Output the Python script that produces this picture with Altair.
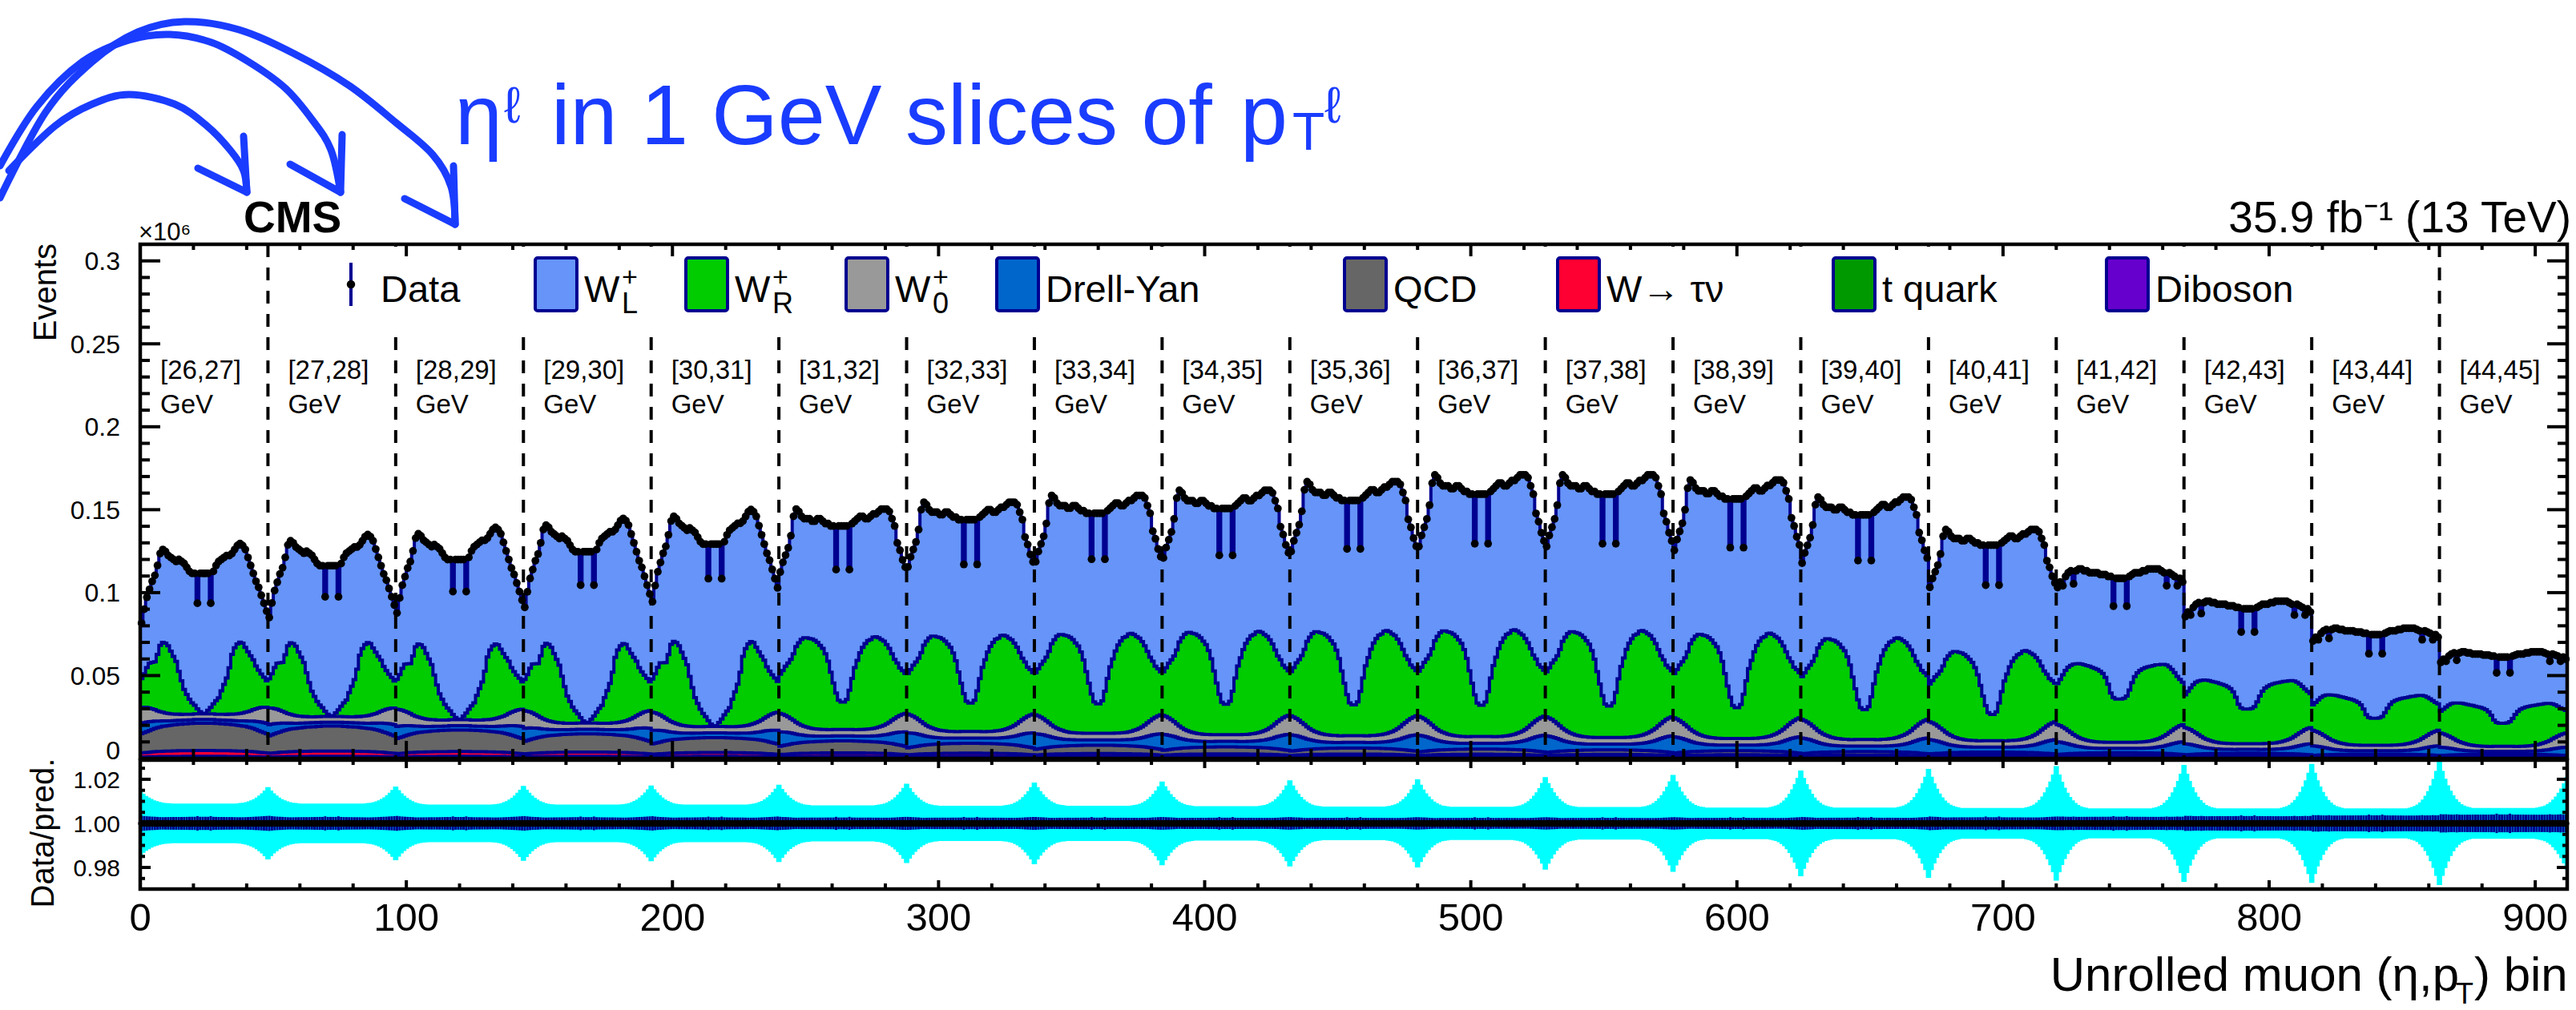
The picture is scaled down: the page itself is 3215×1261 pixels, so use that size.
import numpy as np
import pandas as pd
import altair as alt

alt.data_transformers.disable_max_rows()

# ---------------------------------------------------------------- data ----
SLICE_LABELS = ["[26,27]", "[27,28]", "[28,29]", "[29,30]", "[30,31]", "[31,32]",
                "[32,33]", "[33,34]", "[34,35]", "[35,36]", "[36,37]", "[37,38]",
                "[38,39]", "[39,40]", "[40,41]", "[41,42]", "[42,43]", "[43,44]",
                "[44,45]"]
N_ETA = 48  # eta bins per pT slice

# which eta-profile family each pT slice follows
SHAPE_OF_SLICE = ["A", "A", "A", "A", "A", "B", "B", "B", "B", "B",
                  "B", "B", "B", "B", "B", "C", "C", "C", "C"]

# total prediction: plateau level of each slice (events x 1e6)
TOTAL_PLATEAU = [0.120, 0.125, 0.129, 0.134, 0.139, 0.146, 0.150, 0.154, 0.157, 0.162,
                 0.166, 0.166, 0.163, 0.153, 0.134, 0.112, 0.093, 0.077, 0.063]
# eta profile of the total, relative to the plateau
TOTAL_SHAPE = {
    "A": [0.68, 0.75, 0.81, 0.85, 0.89, 0.92, 0.97, 1.03, 1.05, 1.04, 1.02, 1.01, 1.00, 0.99,
          1.00, 0.99, 0.98, 0.96, 0.94, 0.93, 0.93, 0.78, 0.93, 0.93, 0.93, 0.93, 0.78, 0.94,
          0.97, 0.99, 1.00, 1.01, 1.02, 1.02, 1.03, 1.05, 1.07, 1.08, 1.07, 1.05, 1.01, 0.97,
          0.93, 0.89, 0.86, 0.82, 0.78, 0.74],
    "B": [0.77, 0.81, 0.84, 0.87, 0.92, 1.00, 1.03, 1.02, 1.00, 0.99, 0.99, 0.99, 0.98, 0.98,
          0.99, 0.99, 0.98, 0.97, 0.97, 0.96, 0.96, 0.78, 0.96, 0.96, 0.96, 0.96, 0.78, 0.97,
          0.98, 0.99, 1.00, 1.00, 0.99, 0.99, 1.00, 1.01, 1.01, 1.02, 1.03, 1.03, 1.03, 1.02,
          0.99, 0.96, 0.89, 0.86, 0.82, 0.79],
    "C": [0.92, 0.95, 0.93, 0.98, 1.00, 1.01, 0.94, 1.01, 1.02, 1.02, 1.01, 1.01, 1.00, 1.00,
          1.00, 1.00, 0.99, 0.99, 0.99, 0.98, 0.98, 0.82, 0.97, 0.97, 0.97, 0.97, 0.82, 0.98,
          0.99, 1.00, 1.00, 1.00, 1.01, 1.01, 1.02, 1.02, 1.02, 1.02, 1.02, 1.01, 1.00, 0.93,
          1.00, 0.99, 0.98, 0.93, 0.97, 0.95],
}

# W_R: peak height per slice and eta profile (peak = 1)
WR_PEAK = [0.043, 0.044, 0.045, 0.047, 0.050, 0.055, 0.057, 0.059, 0.061, 0.062,
           0.063, 0.063, 0.062, 0.060, 0.053, 0.045, 0.036, 0.028, 0.024]
WR_SHAPE = {
    "A": [0.40, 0.47, 0.56, 0.63, 0.65, 0.67, 0.79, 0.93, 0.98, 0.98, 0.95, 0.88, 0.81, 0.74,
          0.60, 0.47, 0.35, 0.28, 0.21, 0.16, 0.12, 0.07, 0.03, 0.01, 0.01, 0.05, 0.09, 0.14,
          0.19, 0.23, 0.33, 0.42, 0.51, 0.65, 0.84, 0.93, 0.98, 1.00, 0.98, 0.91, 0.84, 0.77,
          0.70, 0.60, 0.53, 0.47, 0.42, 0.37],
    "B": [0.43, 0.48, 0.54, 0.59, 0.65, 0.73, 0.83, 0.89, 0.94, 0.97, 0.98, 0.98, 0.98, 0.97,
          0.95, 0.92, 0.89, 0.83, 0.75, 0.63, 0.51, 0.40, 0.32, 0.30, 0.30, 0.33, 0.43, 0.56,
          0.68, 0.76, 0.84, 0.90, 0.94, 0.97, 0.98, 1.00, 1.00, 0.98, 0.95, 0.92, 0.87, 0.81,
          0.73, 0.65, 0.59, 0.52, 0.48, 0.44],
    "C": [0.55, 0.62, 0.70, 0.78, 0.85, 0.90, 0.94, 0.97, 0.99, 1.00, 1.00, 1.00, 1.00, 0.99,
          0.98, 0.97, 0.95, 0.92, 0.87, 0.78, 0.66, 0.60, 0.58, 0.58, 0.58, 0.59, 0.62, 0.70,
          0.80, 0.88, 0.93, 0.96, 0.98, 0.99, 1.00, 1.00, 1.00, 1.00, 0.99, 0.98, 0.96, 0.93,
          0.88, 0.82, 0.75, 0.68, 0.62, 0.57],
}

# smaller processes: level per slice
W0_EDGE = [0.0097, 0.0100, 0.0103, 0.0106, 0.0109, 0.0111, 0.0113, 0.0114, 0.0115, 0.0115,
           0.0115, 0.0115, 0.0114, 0.0112, 0.0108, 0.0103, 0.0098, 0.0094, 0.0085]
DY_EDGE = [0.0063, 0.0068, 0.0073, 0.0078, 0.0082, 0.0086, 0.0090, 0.0093, 0.0096, 0.0098,
           0.0100, 0.0100, 0.0098, 0.0094, 0.0086, 0.0076, 0.0066, 0.0057, 0.0050]
QCD_LEVEL = [0.0165, 0.0150, 0.0130, 0.0110, 0.0090, 0.0072, 0.0060, 0.0050, 0.0042, 0.0036,
             0.0031, 0.0027, 0.0024, 0.0021, 0.0019, 0.0017, 0.0015, 0.0013, 0.0012]
WTN_LEVEL = [0.0035, 0.0032, 0.0029, 0.0026, 0.0023, 0.0021, 0.0019, 0.0017, 0.0015, 0.0014,
             0.0013, 0.0012, 0.0011, 0.0010, 0.0009, 0.0008, 0.0007, 0.0006, 0.0006]
TOP_LEVEL = [0.0008, 0.0008, 0.0008, 0.0008, 0.0008, 0.0008, 0.0008, 0.0008, 0.0008, 0.0008,
             0.0008, 0.0008, 0.0007, 0.0007, 0.0007, 0.0006, 0.0006, 0.0005, 0.0005]
VV_LEVEL = [0.0005, 0.0005, 0.0005, 0.0005, 0.0005, 0.0005, 0.0005, 0.0005, 0.0005, 0.0005,
            0.0005, 0.0005, 0.0005, 0.0004, 0.0004, 0.0004, 0.0004, 0.0003, 0.0003]
# eta profiles of the small processes
EDGE_SHAPE = [1.00, 0.96, 0.91, 0.85, 0.78, 0.71, 0.64, 0.58, 0.53, 0.49, 0.46, 0.43, 0.41, 0.39,
              0.38, 0.37, 0.36, 0.36, 0.35, 0.35, 0.35, 0.35, 0.35, 0.35, 0.35, 0.35, 0.35, 0.35,
              0.35, 0.35, 0.36, 0.36, 0.37, 0.38, 0.39, 0.41, 0.43, 0.46, 0.49, 0.53, 0.58, 0.64,
              0.71, 0.78, 0.85, 0.91, 0.96, 1.00]
HUMP_SHAPE = [0.70, 0.73, 0.76, 0.79, 0.82, 0.85, 0.87, 0.89, 0.91, 0.92, 0.93, 0.94, 0.95, 0.96,
              0.97, 0.97, 0.98, 0.98, 0.99, 0.99, 1.00, 1.00, 1.00, 1.00, 1.00, 1.00, 1.00, 1.00,
              0.99, 0.99, 0.98, 0.98, 0.97, 0.97, 0.96, 0.95, 0.94, 0.93, 0.92, 0.91, 0.89, 0.87,
              0.85, 0.82, 0.79, 0.76, 0.73, 0.70]

# ratio-panel uncertainty band: half-width in the middle of each slice,
# peak half-width at each slice boundary, and the shape of the boundary cusp
UNC_BASE = [0.0090, 0.0090, 0.0085, 0.0085, 0.0085, 0.0082, 0.0080, 0.0080, 0.0078, 0.0076,
            0.0075, 0.0074, 0.0072, 0.0072, 0.0070, 0.0068, 0.0068, 0.0068, 0.0070]
UNC_PEAK = [0.0145, 0.0164, 0.0167, 0.0170, 0.0172, 0.0175, 0.0180, 0.0185, 0.0190, 0.0195,
            0.0200, 0.0210, 0.0220, 0.0240, 0.0247, 0.0260, 0.0265, 0.0270, 0.0280, 0.0210]
UNC_BUMP = [1.00, 0.80, 0.63, 0.49, 0.37, 0.27, 0.19, 0.13, 0.08, 0.05, 0.03, 0.015]

# axis tick labels
MAIN_Y_LABELS = [0.05, 0.1, 0.15, 0.2, 0.25, 0.3]
RATIO_Y_LABELS = [0.98, 1.0, 1.02]
X_LABELS = [0, 100, 200, 300, 400, 500, 600, 700, 800, 900]

# --------------------------------------------------------- build tables ----
ns = len(SLICE_LABELS)
nb = ns * N_ETA


def per_slice(levels, shapes):
    return np.concatenate([levels[s] * np.asarray(shapes[s], float) for s in range(ns)])


tot = per_slice(TOTAL_PLATEAU, [TOTAL_SHAPE[k] for k in SHAPE_OF_SLICE])
wr = per_slice(WR_PEAK, [WR_SHAPE[k] for k in SHAPE_OF_SLICE])
w0 = per_slice(W0_EDGE, [EDGE_SHAPE] * ns)
dy = per_slice(DY_EDGE, [EDGE_SHAPE] * ns)
qcd = per_slice(QCD_LEVEL, [HUMP_SHAPE] * ns)
wtn = per_slice(WTN_LEVEL, [HUMP_SHAPE] * ns)
tq = per_slice(TOP_LEVEL, [HUMP_SHAPE] * ns)
vv = per_slice(VV_LEVEL, [HUMP_SHAPE] * ns)

c_vv = vv
c_t = c_vv + tq
c_wtn = c_t + wtn
c_qcd = c_wtn + qcd
c_dy = c_qcd + dy
c_w0 = c_dy + w0
c_wr = c_w0 + wr
c_wl = tot  # W_L fills the rest up to the total prediction

data = tot.copy()             # bin-by-bin fluctuations are not readable
data_err = np.sqrt(data * 1e6) / 1e6
ratio = data / tot
ratio_err = data_err / tot

bump = np.zeros(N_ETA)
bump[:len(UNC_BUMP)] = UNC_BUMP
unc = np.concatenate([UNC_BASE[s] + (UNC_PEAK[s] - UNC_BASE[s]) * bump
                      + (UNC_PEAK[s + 1] - UNC_BASE[s]) * bump[::-1] for s in range(ns)])


def ext(a):
    return np.append(a, a[-1])


edges = np.arange(nb + 1)
hist = pd.DataFrame({"x": edges, "zero": 0.0,
                     "c_wl": ext(c_wl), "c_wr": ext(c_wr), "c_w0": ext(c_w0),
                     "c_dy": ext(c_dy), "c_qcd": ext(c_qcd), "c_wtn": ext(c_wtn),
                     "c_t": ext(c_t), "c_vv": ext(c_vv)})
pts = pd.DataFrame({"xc": np.arange(nb) + 0.5, "data": data,
                    "dlo": data - data_err, "dhi": data + data_err,
                    "r": ratio, "rlo": ratio - ratio_err, "rhi": ratio + ratio_err})
band = pd.DataFrame({"x": edges, "lo": ext(1 - unc), "hi": ext(1 + unc)})
bounds = pd.DataFrame({"b": np.arange(1, ns) * N_ETA})
slices = pd.DataFrame({"start": np.arange(ns) * N_ETA, "lab": SLICE_LABELS, "gev": ["GeV"] * ns})

# --------------------------------------------------------------- layout ----
FIG_W, FIG_H = 3215, 1261
PAD_L, PAD_T = 175, 305
PLOT_W = 3029
MAIN_H = 642
R_TOP, R_BOT = 644, 805
FONT = "Liberation Sans"
NAVY = "#000090"
BLUE = "#1a3cff"
COL = {"WL": "#6694F8", "WR": "#00CC00", "W0": "#999999", "DY": "#0066CC",
       "QCD": "#666666", "WTN": "#FF0033", "T": "#009900", "VV": "#6600CC"}

XS = alt.Scale(domain=[0, nb], nice=False, zero=False)
YM = alt.Scale(domain=[0, 0.31], range=[MAIN_H, 0], nice=False, zero=False)
YR = alt.Scale(domain=[0.9702, 1.0287], range=[R_BOT, R_TOP], nice=False, zero=False)

# ---------------------------------------------------------- main panel ----
main_layers = []
stack = [("c_wl", "WL"), ("c_wr", "WR"), ("c_w0", "W0"), ("c_dy", "DY"),
         ("c_qcd", "QCD"), ("c_wtn", "WTN"), ("c_t", "T"), ("c_vv", "VV")]
for col, key in stack:
    main_layers.append(
        alt.Chart(hist).mark_area(interpolate="step-after", color=COL[key], opacity=1).encode(
            x=alt.X("x:Q", scale=XS, axis=None),
            y=alt.Y(f"{col}:Q", scale=YM, stack=None, axis=None),
            y2="zero:Q"))
    main_layers.append(
        alt.Chart(hist).mark_line(interpolate="step-after", color=NAVY, strokeWidth=4).encode(
            x=alt.X("x:Q", scale=XS, axis=None),
            y=alt.Y(f"{col}:Q", scale=YM, axis=None)))

main_layers.append(
    alt.Chart(bounds).mark_rule(color="black", strokeWidth=4, strokeDash=[16, 13]).encode(
        x=alt.X("b:Q", scale=XS, axis=None), y=alt.value(0), y2=alt.value(MAIN_H)))
main_layers.append(
    alt.Chart(pts).mark_rule(color=NAVY, strokeWidth=3).encode(
        x=alt.X("xc:Q", scale=XS, axis=None), y=alt.Y("dlo:Q", scale=YM, axis=None), y2="dhi:Q"))
main_layers.append(
    alt.Chart(pts).mark_circle(size=95, color="black", opacity=1).encode(
        x=alt.X("xc:Q", scale=XS, axis=None), y=alt.Y("data:Q", scale=YM, axis=None)))
main_group = alt.layer(*main_layers)

# --------------------------------------------------------- ratio panel ----
ratio_group = alt.layer(
    alt.Chart(band).mark_area(interpolate="step-after", color="#00FFFF", opacity=1).encode(
        x=alt.X("x:Q", scale=XS, axis=None),
        y=alt.Y("hi:Q", scale=YR, stack=None, axis=None), y2="lo:Q"),
    alt.Chart(pts).mark_rule(color=NAVY, strokeWidth=3).encode(
        x=alt.X("xc:Q", scale=XS, axis=None), y=alt.Y("rlo:Q", scale=YR, axis=None), y2="rhi:Q"),
    alt.Chart(pts).mark_circle(size=75, color="black", opacity=1).encode(
        x=alt.X("xc:Q", scale=XS, axis=None), y=alt.Y("r:Q", scale=YR, axis=None)),
)

# -------------------------------------------------------------- helpers ----
one = pd.DataFrame({"k": [0]})


def txt(s, x, y, size, color="black", align="left", baseline="alphabetic", weight="normal", angle=None):
    kw = dict(align=align, baseline=baseline, fontSize=size, color=color, font=FONT, fontWeight=weight)
    if angle is not None:
        kw["angle"] = angle
    return alt.Chart(pd.DataFrame({"t": [s]})).mark_text(**kw).encode(
        x=alt.value(x), y=alt.value(y), text="t:N")


def yticks(vals, scale, x0, x1):
    return alt.Chart(pd.DataFrame({"v": vals})).mark_rule(color="black", strokeWidth=4).encode(
        y=alt.Y("v:Q", scale=scale, axis=None), x=alt.value(x0), x2=alt.value(x1))


def xticks(vals, y0, y1):
    return alt.Chart(pd.DataFrame({"v": vals})).mark_rule(color="black", strokeWidth=4).encode(
        x=alt.X("v:Q", scale=XS, axis=None), y=alt.value(y0), y2=alt.value(y1))


def ylabels(vals, scale, fmt, size, dy):
    return alt.Chart(pd.DataFrame({"v": vals})).mark_text(
        align="right", baseline="alphabetic", fontSize=size, font=FONT, color="black", dy=dy).encode(
        y=alt.Y("v:Q", scale=scale, axis=None), x=alt.value(-25), text=alt.Text("v:Q", format=fmt))


main_major = [round(v, 3) for v in np.arange(0.0, 0.301, 0.05)]
main_minor = [round(v, 3) for v in np.arange(0.01, 0.31, 0.01) if round(v * 100) % 5 != 0]
r_major = [0.98, 1.0, 1.02]
r_minor = [0.975, 0.985, 0.99, 0.995, 1.005, 1.01, 1.015, 1.025]
x_major = list(range(100, 901, 100))
x_minor = [v for v in range(20, nb, 20) if v % 100 != 0]

others = []

# legend (white box hides the slice separators behind it, as in the original)
others.append(alt.Chart(one).mark_rect(color="white").encode(
    x=alt.value(170), x2=alt.value(2860), y=alt.value(3), y2=alt.value(105)))

LEG_KEYS = ["WL", "WR", "W0", "DY", "QCD", "WTN", "T", "VV"]
LEG_MAIN = ["W", "W", "W", "Drell-Yan", "QCD", "W\u2192 \u03c4\u03bd", "t quark", "Diboson"]
LEG_SUB = ["L", "R", "0", "", "", "", "", ""]
LEG_BOX_X = [493, 681, 881, 1069, 1503, 1769, 2113, 2454]
leg = pd.DataFrame({"x0": LEG_BOX_X, "x1": [v + 52 for v in LEG_BOX_X],
                    "lx": [v + 61 for v in LEG_BOX_X], "sx": [v + 108 for v in LEG_BOX_X],
                    "col": [COL[k] for k in LEG_KEYS], "lab": LEG_MAIN, "sub": LEG_SUB,
                    "sup": ["+" if s else "" for s in LEG_SUB]})
others.append(alt.Chart(leg).mark_rect(stroke=NAVY, strokeWidth=4, cornerRadius=3).encode(
    x=alt.X("x0:Q", scale=None), x2="x1:Q", y=alt.value(17), y2=alt.value(83),
    fill=alt.Fill("col:N", scale=None)))
others.append(alt.Chart(leg).mark_text(align="left", baseline="alphabetic", fontSize=47,
                                       font=FONT, color="black").encode(
    x=alt.X("lx:Q", scale=None), y=alt.value(72), text="lab:N"))
others.append(alt.Chart(leg).mark_text(align="left", baseline="alphabetic", fontSize=34,
                                       font=FONT, color="black").encode(
    x=alt.X("sx:Q", scale=None), y=alt.value(52), text="sup:N"))
others.append(alt.Chart(leg).mark_text(align="left", baseline="alphabetic", fontSize=36,
                                       font=FONT, color="black").encode(
    x=alt.X("sx:Q", scale=None), y=alt.value(86), text="sub:N"))
others.append(alt.Chart(one).mark_rule(color=NAVY, strokeWidth=4).encode(
    x=alt.value(263), y=alt.value(23), y2=alt.value(77)))
others.append(alt.Chart(one).mark_circle(size=110, color="black", opacity=1).encode(
    x=alt.value(263), y=alt.value(50)))
others.append(txt("Data", 300, 72, 47))

# slice labels
others.append(alt.Chart(slices).mark_text(align="left", baseline="alphabetic", fontSize=33,
                                          font=FONT, color="black", dx=25).encode(
    x=alt.X("start:Q", scale=XS, axis=None), y=alt.value(168), text="lab:N"))
others.append(alt.Chart(slices).mark_text(align="left", baseline="alphabetic", fontSize=33,
                                          font=FONT, color="black", dx=25).encode(
    x=alt.X("start:Q", scale=XS, axis=None), y=alt.value(211), text="gev:N"))

# inward ticks (ROOT style)
others += [
    yticks(main_major, YM, 0, 25), yticks(main_minor, YM, 0, 12),
    yticks(main_major, YM, PLOT_W - 25, PLOT_W), yticks(main_minor, YM, PLOT_W - 12, PLOT_W),
    xticks(x_major, MAIN_H, MAIN_H - 22), xticks(x_minor, MAIN_H, MAIN_H - 12),
    xticks(x_major, 0, 15), xticks(x_minor, 0, 7),
    yticks(r_major, YR, 0, 13), yticks(r_minor, YR, 0, 6),
    yticks(r_major, YR, PLOT_W - 13, PLOT_W), yticks(r_minor, YR, PLOT_W - 6, PLOT_W),
    xticks(x_major, R_BOT, R_BOT - 11), xticks(x_minor, R_BOT, R_BOT - 7),
    xticks(x_major, R_TOP, R_TOP + 10), xticks(x_minor, R_TOP, R_TOP + 6),
]

# tick labels ("0" of the upper panel sits a little higher, clear of the ratio labels)
others.append(ylabels(MAIN_Y_LABELS, YM, ".2~f", 32, 11.5))
others.append(ylabels([0], YM, "d", 32, 1))
others.append(ylabels(RATIO_Y_LABELS, YR, ".2f", 30, 11))
others.append(alt.Chart(pd.DataFrame({"v": X_LABELS})).mark_text(
    align="center", baseline="alphabetic", fontSize=49, font=FONT, color="black").encode(
    x=alt.X("v:Q", scale=XS, axis=None), y=alt.value(857), text=alt.Text("v:Q", format="d")))

# frames
others.append(alt.Chart(one).mark_rect(fillOpacity=0, stroke="black", strokeWidth=4.5).encode(
    x=alt.value(0), x2=alt.value(PLOT_W), y=alt.value(0), y2=alt.value(MAIN_H)))
others.append(alt.Chart(one).mark_rect(fillOpacity=0, stroke="black", strokeWidth=4.5).encode(
    x=alt.value(0), x2=alt.value(PLOT_W), y=alt.value(R_TOP), y2=alt.value(R_BOT)))

# texts
others += [
    txt("Events", -117, -1, 40, align="right", baseline="middle", angle=270),
    txt("Data/pred.", -120, 735, 40, align="center", baseline="middle", angle=270),
    txt("\u00d710\u2076", -2, -5, 31),
    txt("CMS", 129, -15, 55, weight="bold"),
    txt("35.9 fb\u207b\u00b9 (13 TeV)", 3034, -15, 55, align="right"),
    txt("Unrolled muon (\u03b7,p", 2894, 932, 60, align="right"),
    txt("T", 2890, 948, 36),
    txt(") bin", 2913, 932, 60),
    # blue annotation
    txt("\u03b7", 393, -125, 106, color=BLUE),
    txt("\u2113", 454, -152, 64, color=BLUE),
    txt("in 1 GeV slices of", 513, -125, 106, color=BLUE),
    txt("p", 1373, -125, 106, color=BLUE),
    txt("T", 1438, -118, 66, color=BLUE),
    txt("\u2113", 1478, -152, 64, color=BLUE),
]

# hand-drawn arrows of the annotation (figure pixel coordinates)
ARROW_PATHS = {
    "a": [(11, 213), (69, 157), (115, 130), (161, 118), (218, 130), (258, 157), (287, 187),
          (304, 213), (308, 240)],
    "b": [(0, 207), (46, 133), (103, 77), (161, 50), (212, 43), (264, 53), (310, 77),
          (356, 110), (390, 150), (413, 187), (425, 240)],
    "c": [(0, 247), (57, 140), (115, 77), (172, 40), (230, 27), (298, 37), (367, 67),
          (436, 107), (494, 153), (540, 193), (563, 233), (568, 280)],
}
ARROW_HEADS = [((308, 240), (247, 210)), ((308, 240), (304, 170)),
               ((425, 240), (362, 205)), ((425, 240), (427, 168)),
               ((568, 280), (505, 248)), ((568, 280), (566, 207))]
arr = pd.DataFrame([{"arc": k, "i": i, "ax": p[0] - PAD_L, "ay": p[1] - PAD_T}
                    for k, path in ARROW_PATHS.items() for i, p in enumerate(path)])
heads = pd.DataFrame([{"tx": a[0] - PAD_L, "ty": a[1] - PAD_T, "wx": b[0] - PAD_L, "wy": b[1] - PAD_T}
                      for a, b in ARROW_HEADS])
others.append(alt.Chart(arr).mark_line(interpolate="cardinal", color=BLUE, strokeWidth=9,
                                       strokeCap="round").encode(
    x=alt.X("ax:Q", scale=None), y=alt.Y("ay:Q", scale=None), order="i:Q", detail="arc:N"))
others.append(alt.Chart(heads).mark_rule(color=BLUE, strokeWidth=9, strokeCap="round").encode(
    x=alt.X("tx:Q", scale=None), y=alt.Y("ty:Q", scale=None), x2="wx:Q", y2="wy:Q"))

chart = alt.layer(main_group, ratio_group, *others).resolve_scale(y="independent").properties(
    width=PLOT_W, height=R_BOT,
    padding={"left": PAD_L, "top": PAD_T, "right": FIG_W - PAD_L - PLOT_W,
             "bottom": FIG_H - PAD_T - R_BOT},
    autosize=alt.AutoSizeParams(type="none"),
    background="white",
).configure_view(stroke="transparent")

chart.save("out.html", embed_options={"renderer": "svg", "actions": False})
